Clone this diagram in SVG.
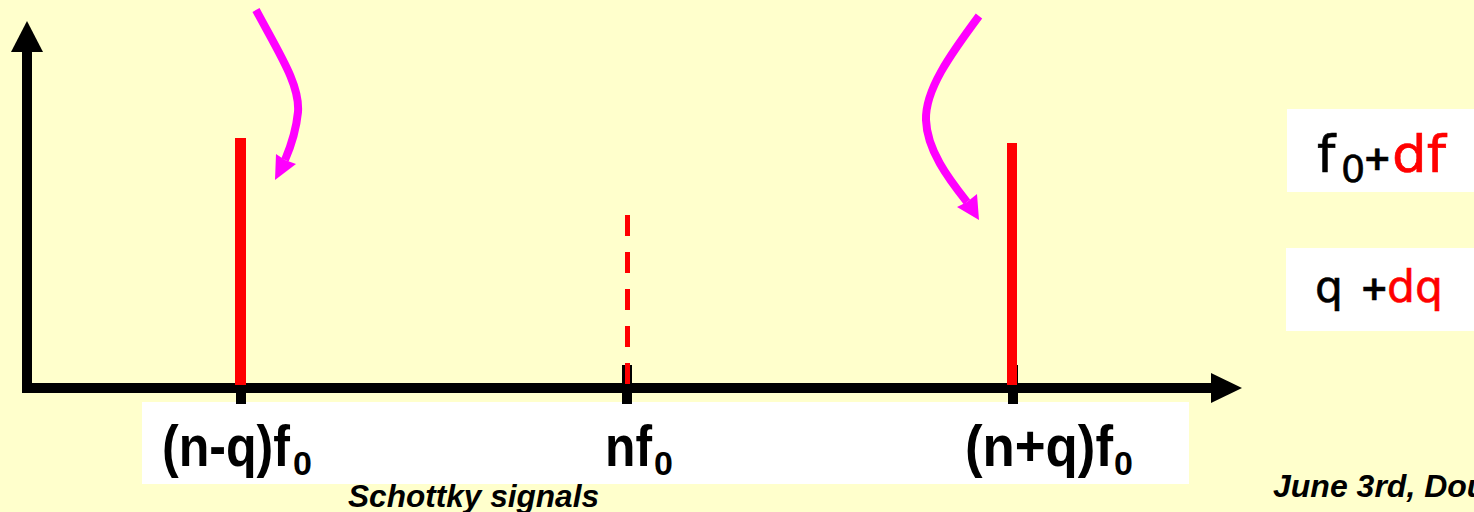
<svg xmlns="http://www.w3.org/2000/svg" width="1474" height="512" viewBox="0 0 1474 512">
<style>
.lbl{font-family:"Liberation Sans",Arial,sans-serif;font-weight:bold;fill:#000;font-size:58px}
.sub{font-size:34px}
.foot{font-family:"Liberation Sans",Arial,sans-serif;font-weight:bold;font-style:italic;font-size:32px;fill:#000}
.cs{font-family:"DejaVu Sans",sans-serif;fill:#000;stroke:#000;stroke-width:0.6}
.red{fill:#FF0000;stroke:#FF0000}
.mag{fill:none;stroke:#FF00FF;stroke-width:8}
.head{fill:#FF00FF}
</style>
<rect width="1474" height="512" fill="#FFFFCC"/>
<g id="labelbox">
<rect x="142" y="402" width="1047" height="82" fill="#FFFFFF"/>
</g>
<g id="axes">
<line x1="27" y1="392" x2="27" y2="48" stroke="#000" stroke-width="10"/>
<polygon points="27,21 43,52 11,52" fill="#000"/>
<line x1="22" y1="388" x2="1214" y2="388" stroke="#000" stroke-width="10"/>
<polygon points="1242,388 1211,373 1211,403" fill="#000"/>
<rect x="236" y="365" width="10" height="39" fill="#000"/>
<rect x="622" y="365" width="10" height="39" fill="#000"/>
<rect x="1008" y="365" width="10" height="39" fill="#000"/>
</g>
<g id="lines">
<rect x="235" y="138" width="11" height="247" fill="#FF0000"/>
<rect x="1007" y="143" width="10" height="242" fill="#FF0000"/>
<line x1="627.5" y1="215" x2="627.5" y2="385" stroke="#FF0000" stroke-width="5" stroke-dasharray="21 16"/>
</g>
<g id="connectors">
<path class="mag" d="M256,10 C280,55 300,85 298,112 C296,132 291,146 285,160"/>
<polygon class="head" points="275,180 276,154 285,160 296,164"/>
<path class="mag" d="M979,16 C950,55 925,90 926,120 C927,150 948,178 967,202"/>
<polygon class="head" points="979,220 957,207 967,202 977,194"/>
</g>
<g id="label-nq-minus">
<text class="lbl" x="162" y="466"><tspan textLength="128" lengthAdjust="spacingAndGlyphs">(n-q)f</tspan><tspan class="sub" x="293" y="475">0</tspan></text>
</g>
<g id="label-n">
<text class="lbl" x="605" y="466"><tspan textLength="47" lengthAdjust="spacingAndGlyphs">nf</tspan><tspan class="sub" x="654" y="475">0</tspan></text>
</g>
<g id="label-nq-plus">
<text class="lbl" x="965" y="466"><tspan textLength="148" lengthAdjust="spacingAndGlyphs">(n+q)f</tspan><tspan class="sub" x="1114" y="475">0</tspan></text>
</g>
<g id="box-f">
<rect x="1287" y="109" width="187" height="83" fill="#FFFFFF"/>
<text class="cs" x="1317" y="172" font-size="52">f<tspan x="1341" y="182" font-size="38">0</tspan><tspan x="1363" y="170" font-size="34" font-weight="bold">+</tspan><tspan class="red" x="1392" y="172" font-size="52" textLength="54" lengthAdjust="spacingAndGlyphs">df</tspan></text>
</g>
<g id="box-q">
<rect x="1286" y="248" width="188" height="83" fill="#FFFFFF"/>
<text class="cs" x="1315" y="302" font-size="44">q<tspan x="1360" y="300" font-size="34" font-weight="bold">+</tspan><tspan class="red" x="1387" y="302" textLength="56" lengthAdjust="spacingAndGlyphs">dq</tspan></text>
</g>
<g id="footer">
<text class="foot" x="348" y="507" textLength="251" lengthAdjust="spacingAndGlyphs">Schottky signals</text>
<text class="foot" x="1273" y="497">June 3rd, Dou</text>
</g>
</svg>
